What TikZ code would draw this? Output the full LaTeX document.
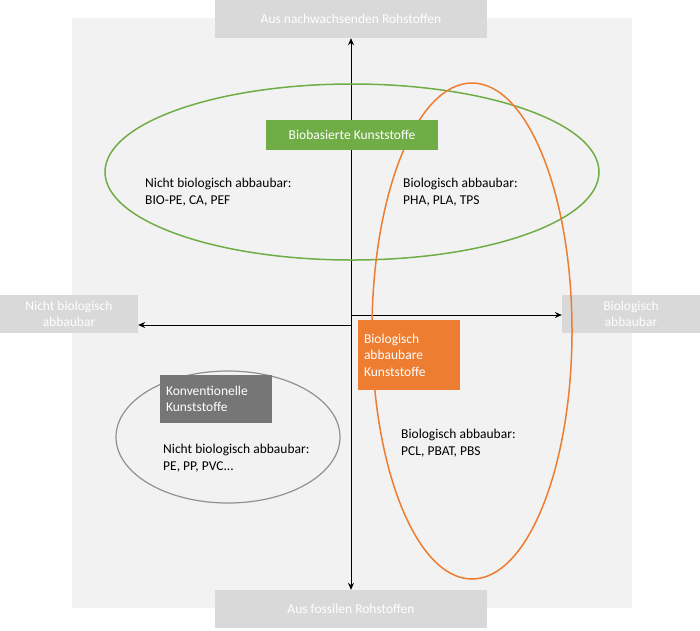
\documentclass[tikz,border=0pt]{standalone}
\usepackage{fontspec}
\setmainfont{Carlito}
\usetikzlibrary{arrows.meta}
\definecolor{bggray}{RGB}{242,242,242}
\definecolor{lblgray}{RGB}{217,217,217}
\definecolor{bgreen}{RGB}{112,173,71}
\definecolor{borange}{RGB}{237,125,49}
\definecolor{kgray}{RGB}{118,118,118}
\tikzset{
  axislbl/.style={fill=lblgray, text=white, align=center, inner sep=0pt},
  tag/.style={text=white, align=left, inner sep=0pt},
  entry/.style={anchor=north west, align=left, inner sep=0pt},
  axis/.style={-{Stealth[length=7pt,width=6pt]}, line width=0.8pt}
}
\begin{document}
\begin{tikzpicture}[x=1pt,y=-1pt,font=\fontsize{13.5}{16.5}\selectfont]
    \useasboundingbox (0,0) rectangle (700,630);
    % Background
    \fill[bggray] (72,18) rectangle (632,608);

    % Axis labels
    \node[axislbl, minimum width=272, minimum height=38] (top) at (351,19) {Aus nachwachsenden Rohstoffen};
    \node[axislbl, minimum width=272, minimum height=38] (bottom) at (351,609) {Aus fossilen Rohstoffen};
    \node[axislbl, minimum width=138, minimum height=38] (left) at (69,314) {Nicht biologisch\\abbaubar};
    \node[axislbl, minimum width=138, minimum height=38] (right) at (631,314) {Biologisch\\abbaubar};

    % Axes
    \coordinate (o1) at (351,325);
    \coordinate (o2) at (351,315);
    \draw[axis] (o1) -- (top.south);
    \draw[axis] (o2) -- (bottom.north);
    \draw[axis] (o1) -- (left.east |- o1);
    \draw[axis] (o2) -- (right.west |- o2);

    % Ellipses
    \draw[bgreen, line width=1.5pt] (352,172) ellipse [x radius=247, y radius=88];
    \draw[borange, line width=1.5pt] (472,331) ellipse [x radius=100, y radius=248];
    \draw[kgray!80, line width=1.2pt] (228,437) ellipse [x radius=112, y radius=66];

    % Group tags
    \node[tag, fill=bgreen, minimum width=172, minimum height=30, align=center] (bio) at (352,135) {Biobasierte Kunststoffe};
    \node[tag, fill=borange, minimum width=102, minimum height=70, text width=90] (abb) at (409,355) {Biologisch\\abbaubare\\Kunststoffe};
    \node[tag, fill=kgray, minimum width=112, minimum height=48, text width=100] (konv) at (216,399) {Konventionelle\\Kunststoffe};

    % Entries
    \node[entry] (nbb) at (145,178) {Nicht biologisch abbaubar:\\BIO-PE, CA, PEF};
    \node[entry] (bb) at (403,178) {Biologisch abbaubar:\\PHA, PLA, TPS};
    \node[entry] (bf) at (401,429) {Biologisch abbaubar:\\PCL, PBAT, PBS};
    \node[entry] (nbf) at (163,444) {Nicht biologisch abbaubar:\\PE, PP, PVC...};
\end{tikzpicture}
\end{document}
